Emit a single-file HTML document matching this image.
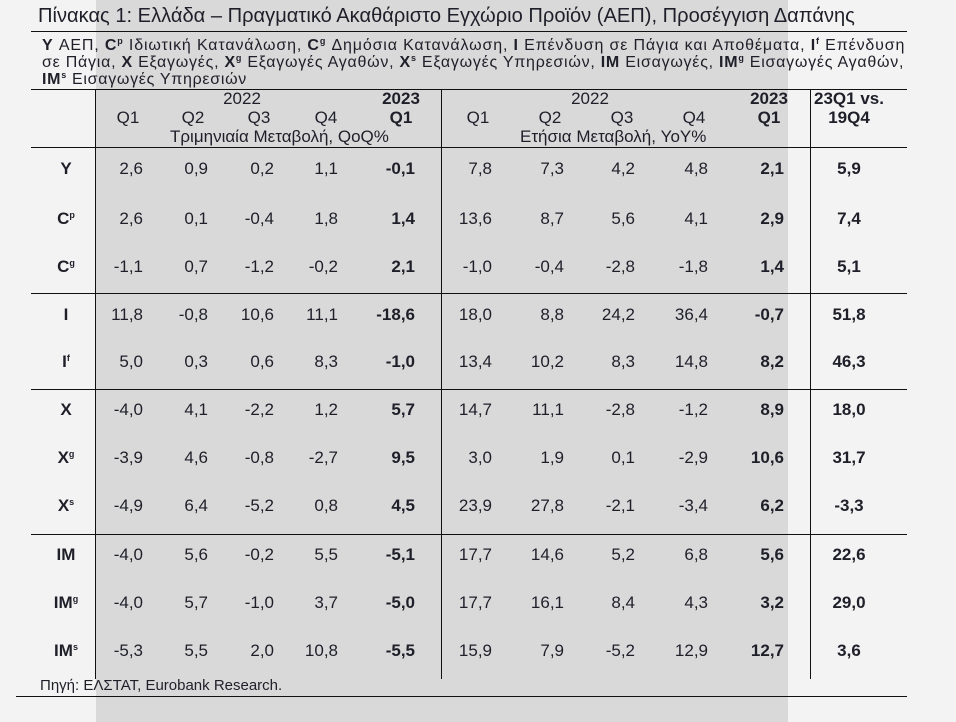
<!DOCTYPE html>
<html><head><meta charset="utf-8">
<style>
body{margin:0;width:956px;height:722px;position:relative;overflow:hidden;background:#f3f3f3;font-family:"Liberation Sans","DejaVu Sans",sans-serif;color:#1f1f2a}
.g{position:absolute;left:96px;top:0;width:692px;height:722px;background:#d9d9d9}
.hl{position:absolute;height:2px;background:#111}
.vl{position:absolute;width:1px;background:#111}
.t{position:absolute;white-space:nowrap}
.n{position:absolute;font-size:17px;white-space:nowrap}
.r{text-align:right;width:80px}
.c{text-align:center;width:100px}
b{font-weight:bold}
sup{font-size:9px;vertical-align:6px;font-weight:bold}
.lg{position:absolute;left:42px;font-size:16px;white-space:nowrap;line-height:17px}
</style></head><body>
<div class="g"></div>
<div class="t" style="left:38px;top:5px;font-size:20.1px">Πίνακας 1: Ελλάδα – Πραγματικό Ακαθάριστο Εγχώριο Προϊόν (ΑΕΠ), Προσέγγιση Δαπάνης</div>
<div class="hl" style="left:31px;top:31px;width:876px;height:1px"></div>
<div class="lg" style="top:33px;letter-spacing:0.85px"><b>Y</b> ΑΕΠ, <b>C</b><sup>p</sup> Ιδιωτική Κατανάλωση, <b>C</b><sup>g</sup> Δημόσια Κατανάλωση, <b>I</b> Επένδυση σε Πάγια και Αποθέματα, <b>I</b><sup>f</sup> Επένδυση</div>
<div class="lg" style="top:50px;letter-spacing:0.75px">σε Πάγια, <b>X</b> Εξαγωγές, <b>X</b><sup>g</sup> Εξαγωγές Αγαθών, <b>X</b><sup>s</sup> Εξαγωγές Υπηρεσιών, <b>IM</b> Εισαγωγές, <b>IM</b><sup>g</sup> Εισαγωγές Αγαθών,</div>
<div class="lg" style="top:67px;letter-spacing:0.7px"><b>IM</b><sup>s</sup> Εισαγωγές Υπηρεσιών</div>
<div class="hl" style="left:31px;top:89px;width:876px;height:1px"></div>
<div class="hl" style="left:31px;top:147px;width:876px;height:1px"></div>
<div class="hl" style="left:31px;top:293px;width:876px;height:1px"></div>
<div class="hl" style="left:31px;top:389px;width:876px;height:1px"></div>
<div class="hl" style="left:31px;top:534px;width:876px;height:1px"></div>
<div class="hl" style="left:16px;top:696px;width:891px;height:1px"></div>
<div class="vl" style="left:95px;top:89px;height:590px"></div>
<div class="vl" style="left:441px;top:89px;height:590px"></div>
<div class="vl" style="left:810px;top:89px;height:590px"></div>
<div class="n c" style="left:192px;top:89px">2022</div>
<div class="n c" style="left:351px;top:89px"><b>2023</b></div>
<div class="n c" style="left:78px;top:108px">Q1</div>
<div class="n c" style="left:143px;top:108px">Q2</div>
<div class="n c" style="left:209px;top:108px">Q3</div>
<div class="n c" style="left:276px;top:108px">Q4</div>
<div class="n c" style="left:351px;top:108px"><b>Q1</b></div>
<div class="n c" style="left:170px;top:127px;width:160px">Τριμηνιαία Μεταβολή, QoQ%</div>
<div class="n c" style="left:540px;top:89px">2022</div>
<div class="n c" style="left:719px;top:89px"><b>2023</b></div>
<div class="n c" style="left:428px;top:108px">Q1</div>
<div class="n c" style="left:500px;top:108px">Q2</div>
<div class="n c" style="left:572px;top:108px">Q3</div>
<div class="n c" style="left:644px;top:108px">Q4</div>
<div class="n c" style="left:719px;top:108px"><b>Q1</b></div>
<div class="n c" style="left:520px;top:127px;width:180px">Ετήσια Μεταβολή, YoY%</div>
<div class="n c" style="left:799px;top:89px"><b>23Q1 vs.</b></div>
<div class="n c" style="left:799px;top:108px"><b>19Q4</b></div>
<div id="rows"></div>
<script>
var rows=[
["Y","",170,["2,6","0,9","0,2","1,1","-0,1","7,8","7,3","4,2","4,8","2,1","5,9"]],
["C","p",220,["2,6","0,1","-0,4","1,8","1,4","13,6","8,7","5,6","4,1","2,9","7,4"]],
["C","g",268,["-1,1","0,7","-1,2","-0,2","2,1","-1,0","-0,4","-2,8","-1,8","1,4","5,1"]],
["I","",316,["11,8","-0,8","10,6","11,1","-18,6","18,0","8,8","24,2","36,4","-0,7","51,8"]],
["I","f",363,["5,0","0,3","0,6","8,3","-1,0","13,4","10,2","8,3","14,8","8,2","46,3"]],
["X","",411,["-4,0","4,1","-2,2","1,2","5,7","14,7","11,1","-2,8","-1,2","8,9","18,0"]],
["X","g",459,["-3,9","4,6","-0,8","-2,7","9,5","3,0","1,9","0,1","-2,9","10,6","31,7"]],
["X","s",507,["-4,9","6,4","-5,2","0,8","4,5","23,9","27,8","-2,1","-3,4","6,2","-3,3"]],
["IM","",556,["-4,0","5,6","-0,2","5,5","-5,1","17,7","14,6","5,2","6,8","5,6","22,6"]],
["IM","g",604,["-4,0","5,7","-1,0","3,7","-5,0","17,7","16,1","8,4","4,3","3,2","29,0"]],
["IM","s",652,["-5,3","5,5","2,0","10,8","-5,5","15,9","7,9","-5,2","12,9","12,7","3,6"]]];
var rx=[143,208,274,338,415,492,564,635,708,784];
var h="";
rows.forEach(function(r){
 var y=r[2]-11;
 h+='<div class="n c" style="left:16px;top:'+y+'px"><b>'+r[0]+'</b>'+(r[1]?'<sup>'+r[1]+'</sup>':'')+'</div>';
 for(var i=0;i<10;i++){var b=(i==4||i==9);
  h+='<div class="n r" style="left:'+(rx[i]-80)+'px;top:'+y+'px">'+(b?'<b>'+r[3][i]+'</b>':r[3][i])+'</div>';}
 h+='<div class="n c" style="left:799px;top:'+y+'px"><b>'+r[3][10]+'</b></div>';
});
document.getElementById('rows').innerHTML=h;
</script>
<div class="t" style="left:40px;top:677px;font-size:15px">Πηγή: ΕΛΣΤΑΤ, Eurobank Research.</div>
</body></html>
